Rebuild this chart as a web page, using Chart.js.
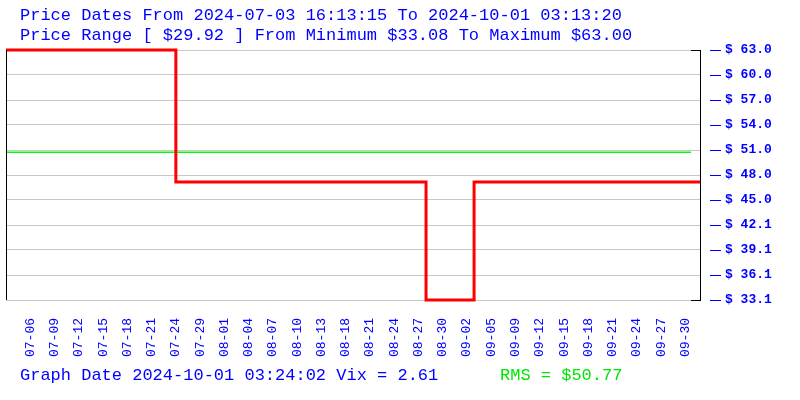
<!DOCTYPE html>
<html>
<head>
<meta charset="utf-8">
<script src="https://cdn.jsdelivr.net/npm/chart.js@4"></script>
<style>
  html, body { margin: 0; padding: 0; background: #fff; }
  #wrap { width: 800px; height: 400px; }
</style>
</head>
<body>
<div id="wrap"><canvas id="c" width="800" height="400"></canvas></div>
<script>
// price step chart, right-hand $ axis, dates along the bottom

const titleLines = [
  'Price Dates From 2024-07-03 16:13:15 To 2024-10-01 03:13:20',
  'Price Range [ $29.92 ] From Minimum $33.08 To Maximum $63.00',
];
const footerText = 'Graph Date 2024-10-01 03:24:02 Vix = 2.61';
const rmsText = 'RMS = $50.77';

const dateLabels = [
  '07-06', '07-09', '07-12', '07-15', '07-18', '07-21', '07-24', '07-29',
  '08-01', '08-04', '08-07', '08-10', '08-13', '08-18', '08-21', '08-24',
  '08-27', '08-30', '09-02', '09-05', '09-09', '09-12', '09-15', '09-18',
  '09-21', '09-24', '09-27', '09-30',
];

// step positions (in label index units) and prices
const stepIndex = [0, 7.0, 17.31, 19.29, 28.6];
const stepPrice = [63.0, 47.2, 33.08, 47.2, 47.2];

const rmsIndex = [0, 28.23];
const rmsPrice = [50.77, 50.77];

const priceMin = 33.08;
const priceMax = 63.0;
const xMax = 28.6;

const BLUE = '#0000ff';
const MONO = '"Liberation Mono", "DejaVu Sans Mono", monospace';

// 枠線・目盛りダッシュ・タイトル・フッター
const decor = {
  id: 'decor',
  afterDraw(chart) {
    const { ctx, chartArea: a } = chart;
    const y = chart.scales.y;
    ctx.save();
    // left frame + right bracket ends
    ctx.strokeStyle = '#000';
    ctx.lineWidth = 1;
    ctx.beginPath();
    ctx.moveTo(a.left + 0.5, a.top);
    ctx.lineTo(a.left + 0.5, a.bottom);
    ctx.moveTo(a.right - 9, a.top + 0.5);
    ctx.lineTo(a.right, a.top + 0.5);
    ctx.moveTo(a.right - 9, a.bottom + 0.5);
    ctx.lineTo(a.right, a.bottom + 0.5);
    ctx.stroke();
    // blue dashes in front of tick labels
    ctx.strokeStyle = BLUE;
    ctx.beginPath();
    y.ticks.forEach(t => {
      const py = Math.round(y.getPixelForValue(t.value)) + 0.5;
      ctx.moveTo(a.right + 10, py);
      ctx.lineTo(a.right + 21, py);
    });
    ctx.stroke();
    // titles
    ctx.textBaseline = 'middle';
    ctx.textAlign = 'left';
    ctx.font = '17px ' + MONO;
    ctx.fillStyle = BLUE;
    ctx.fillText(titleLines[0], 20, 15);
    ctx.fillText(titleLines[1], 20, 35);
    ctx.fillText(footerText, 20, 375);
    ctx.fillStyle = '#00e600';
    ctx.fillText(rmsText, 500, 375);
    ctx.restore();
  },
};

new Chart(document.getElementById('c'), {
  type: 'line',
  data: {
    datasets: [
      {
        label: 'Price',
        data: stepIndex.map((x, i) => ({ x, y: stepPrice[i] })),
        stepped: true,
        borderColor: '#ff0000',
        borderWidth: 3,
        pointRadius: 0,
        clip: 4,
      },
      {
        label: 'RMS',
        data: rmsIndex.map((x, i) => ({ x, y: rmsPrice[i] })),
        borderColor: '#00ff00',
        borderWidth: 1.5,
        pointRadius: 0,
      },
    ],
  },
  options: {
    responsive: false,
    animation: false,
    layout: { padding: { top: 50, left: 6, right: 0, bottom: 0 } },
    plugins: {
      legend: { display: false },
      tooltip: { enabled: false },
      title: { display: false },
    },
    scales: {
      x: {
        type: 'linear',
        min: 0,
        max: xMax,
        afterBuildTicks: s => { s.ticks = dateLabels.map((_, i) => ({ value: i + 1 })); },
        afterFit: s => { s.height = 100; },
        grid: { display: false, drawTicks: false },
        border: { display: false },
        ticks: {
          autoSkip: false,
          minRotation: 90,
          maxRotation: 90,
          padding: 18,
          color: BLUE,
          font: { family: MONO, size: 13 },
          callback: v => dateLabels[Math.round(v) - 1] || '',
        },
      },
      y: {
        position: 'right',
        min: priceMin,
        max: priceMax,
        afterBuildTicks: s => {
          const out = [];
          for (let i = 0; i <= 10; i++) out.push({ value: priceMin + (priceMax - priceMin) * i / 10 });
          s.ticks = out;
        },
        afterFit: s => { s.width = 100; },
        grid: { color: '#c8c8c8', lineWidth: 1, drawTicks: false },
        border: { display: true, color: '#000', width: 1 },
        ticks: {
          padding: 25,
          color: BLUE,
          font: { family: MONO, size: 13, weight: 'bold' },
          callback: v => '$ ' + v.toFixed(1),
        },
      },
    },
  },
  plugins: [decor],
});
</script>
</body>
</html>
